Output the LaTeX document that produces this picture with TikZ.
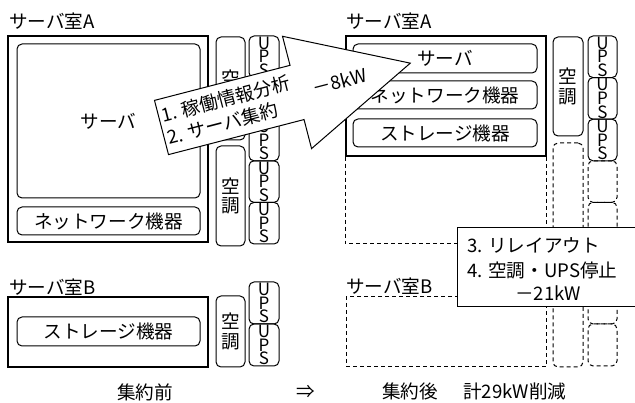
\documentclass[tikz,border=0pt]{standalone}
\usepackage{fontspec}
\setmainfont{Noto Sans CJK JP}
\begin{document}
\begin{tikzpicture}[x=1pt,y=-1pt,
  room/.style={draw, line width=1.1pt, inner sep=0pt},
  droom/.style={draw, line width=1pt, inner sep=0pt, dash pattern=on 4pt off 3pt},
  rbox/.style={draw, line width=1pt, rounded corners=5pt, inner sep=0pt, font=\fontsize{18.6}{20}\selectfont},
  dbox/.style={draw, line width=1pt, rounded corners=5pt, inner sep=0pt, dash pattern=on 4pt off 3pt},
  acbox/.style={rbox, minimum width=29pt, align=center, font=\fontsize{18.6}{19.5}\selectfont},
  upsbox/.style={rbox, minimum width=30pt, minimum height=41.6pt, align=center, font=\fontsize{17}{13.6}\selectfont},
  lbl/.style={inner sep=0pt, font=\fontsize{18.6}{20}\selectfont},
]
\useasboundingbox (0,0) rectangle (635,403);

% ---------- before: room A ----------
\node[lbl, anchor=west] (titleA1) at (9,21.5) {サーバ室A};
\node[room, minimum width=200pt, minimum height=206pt] (roomA1) at (108,139) {};
\node[rbox, minimum width=183pt, minimum height=154pt] (srv1) at (108.5,121) {サーバ};
\node[rbox, minimum width=183pt, minimum height=28pt] (net1) at (108.5,221) {ネットワーク機器};
\node[acbox, minimum height=103pt] (ac1a) at (230.5,88.5) {空\\調};
\node[acbox, minimum height=100pt] (ac1b) at (230.5,196) {空\\調};
\node[upsbox] (u11) at (264,56.8) {U\\P\\S};
\node[upsbox] (u12) at (264,98.4) {U\\P\\S};
\node[upsbox] (u13) at (264,140) {U\\P\\S};
\node[upsbox] (u14) at (264,181.6) {U\\P\\S};
\node[upsbox] (u15) at (264,223.2) {U\\P\\S};

% ---------- before: room B ----------
\node[lbl, anchor=west] (titleB1) at (9,287) {サーバ室B};
\node[room, minimum width=200pt, minimum height=70pt] (roomB1) at (108,332) {};
\node[rbox, minimum width=183pt, minimum height=29pt] (stor1) at (108.5,331.5) {ストレージ機器};
\node[acbox, minimum height=71pt] (acB1) at (230.5,331.5) {空\\調};
\node[upsbox, minimum height=42pt] (uB11) at (264,303) {U\\P\\S};
\node[upsbox, minimum height=42pt] (uB12) at (264,345) {U\\P\\S};

% ---------- after: room A ----------
\node[lbl, anchor=west] (titleA2) at (346,21.5) {サーバ室A};
\node[room, minimum width=200pt, minimum height=120pt] (roomA2) at (446,96) {};
\draw[line width=1pt, dash pattern=on 4pt off 3pt] (roomA2.south west) -- ++(0,87) coordinate (exA) -| (roomA2.south east);
\node[rbox, minimum width=184pt, minimum height=29pt] (srv2) at (445,58.5) {サーバ};
\node[rbox, minimum width=184pt, minimum height=28pt] (net2) at (445,95) {ネットワーク機器};
\node[rbox, minimum width=184pt, minimum height=28pt] (stor2) at (445,133) {ストレージ機器};
\node[acbox, minimum width=30pt, minimum height=99pt] (ac2a) at (568,86.5) {空\\調};
\node[dbox, minimum width=30pt, minimum height=103pt] (ac2b) at (568,194.5) {};
\node[upsbox, minimum width=29pt] (u21) at (602.5,56.8) {U\\P\\S};
\node[upsbox, minimum width=29pt] (u22) at (602.5,98.4) {U\\P\\S};
\node[upsbox, minimum width=29pt] (u23) at (602.5,140) {U\\P\\S};
\node[dbox, minimum width=29pt, minimum height=41.6pt] (u24) at (602.5,181.6) {};
\node[dbox, minimum width=29pt, minimum height=41.6pt] (u25) at (602.5,223.2) {};

% ---------- after: room B ----------
\node[lbl, anchor=west] (titleB2) at (346,286) {サーバ室B};
\node[droom, minimum width=200pt, minimum height=70pt] (roomB2) at (446,332) {};
\node[dbox, minimum width=30pt, minimum height=71pt] (acB2) at (568,331.5) {};
\node[dbox, minimum width=29pt, minimum height=42pt] (uB21) at (602.5,303) {};
\node[dbox, minimum width=29pt, minimum height=42pt] (uB22) at (602.5,345) {};

% ---------- big arrow ----------
\begin{scope}[shift={(161.5,127.5)}, rotate=14.5, transform shape]
  \draw[line width=1pt, fill=white, line join=miter]
    (0,-28) -- (140,-28) -- (140,-58) -- (257,0) -- (140,58) -- (140,28) -- (0,28) -- cycle;
  \node[lbl, anchor=west, align=left, font=\fontsize{18.6}{23}\selectfont] (steps12) at (3,0) {1. 稼働情報分析\\2. サーバ集約};
  \node[lbl] (save8) at (184,0) {－8kW};
\end{scope}

% ---------- note box ----------
\node[draw, fill=white, line width=1pt, inner sep=0pt, minimum width=183pt, minimum height=79pt] (note) at (548.5,267.5) {};
\node[lbl, anchor=west] (step3) at (467,245) {3. リレイアウト};
\node[lbl, anchor=west] (step4) at (467,270) {4. 空調・UPS停止};
\node[lbl] (save21) at (548,293) {－21kW};

% ---------- captions ----------
\node[lbl] (capBefore) at (145,392) {集約前};
\node[lbl] (capArrow) at (306,392) {⇒};
\node[lbl, anchor=west] (capAfter) at (382,391) {集約後};
\node[lbl, anchor=west] (capTotal) at (463,391) {計29kW削減};
\end{tikzpicture}
\end{document}
